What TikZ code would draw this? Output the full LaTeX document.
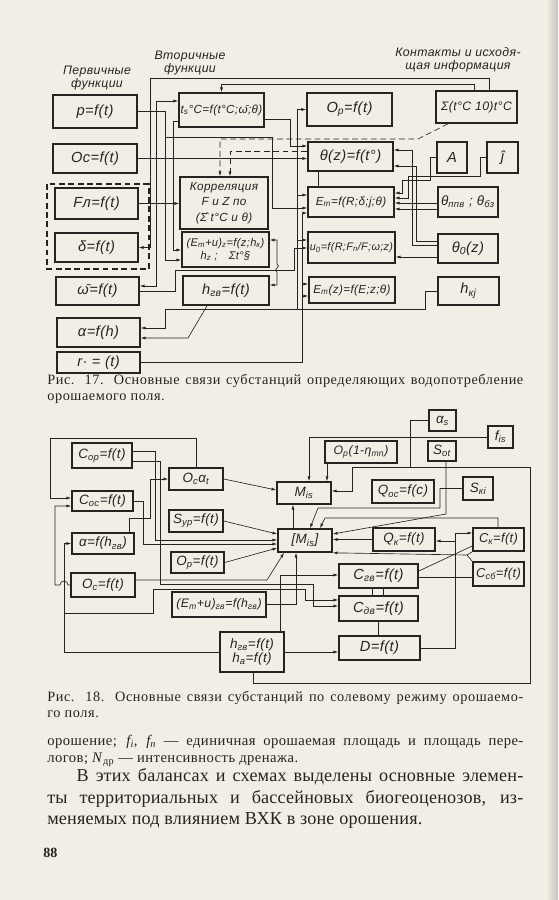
\documentclass[tikz,border=0pt]{standalone}
\usepackage{fontspec}
\setmainfont{Liberation Serif}
\newfontfamily\skfont[LetterSpace=3]{Liberation Sans}
\usetikzlibrary{arrows.meta}
\definecolor{ink}{RGB}{38,36,34}
\definecolor{paper}{RGB}{241,238,229}
\newcommand\dsub[1]{\textsubscript{#1}}

\begin{document}
\begin{tikzpicture}[x=0.03cm, y=-0.03cm, ink, line width=0.55pt,
    bx/.style 2 args={draw, line width=1.4pt, minimum width=#1*0.03cm, minimum height=#2*0.03cm,
      inner sep=0pt, align=center, font=\skfont\itshape\fontsize{12.5}{13}\selectfont},
    bs/.style 2 args={bx={#1}{#2}, font=\skfont\itshape\fontsize{10}{11}\selectfont},
    bm/.style 2 args={bx={#1}{#2}, font=\skfont\itshape\fontsize{11.5}{12}\selectfont},
    hd/.style={inner sep=0pt, align=center, font=\skfont\itshape\fontsize{10.5}{11}\selectfont},
    ar/.style={-{Latex[length=4pt,width=2.6pt]}},
    ar2/.style={{Latex[length=4pt,width=2.6pt]}-{Latex[length=4pt,width=2.6pt]}},
    dsh/.style={dash pattern=on 5pt off 3pt},
    captxt/.style={anchor=north west, inner sep=0pt, text width=14.28cm, align=justify,
      font=\addfontfeatures{LetterSpace=4}\fontsize{12.2}{13.5}\selectfont}]

    % page
    \fill[paper] (0,0) rectangle (558,900);
    \shade[left color=paper, right color=paper!82!black] (546,0) rectangle (558,900);

    % ---- Fig. 17 ----
    \node[hd] (h1) at (97,78) {Первичные\\функции};
    \node[hd] (h2) at (190,63) {Вторичные\\функции};
    \node[hd] (h3) at (458,60) {Контакты и исходя-\\щая информация};

    \node[bx={84}{33}] (p) at (95,111.5) {p=f(t)};
    \node[bx={84}{29}] (oc) at (95,158.5) {Oc=f(t)};
    \draw[dsh, line width=0.9pt] (47,184) rectangle (149,269);
    \node[bx={83}{31}] (fl) at (96.5,203.5) {Fл=f(t)};
    \node[bx={83}{29}] (dl) at (96.5,247.5) {δ=f(t)};
    \node[bx={83}{28}] (om) at (97.5,291) {ω̄=f(t)};
    \node[bx={83}{29}] (al) at (98.5,332.5) {α=f(h)};
    \node[bx={83}{21}] (r) at (98.5,362.5) {r· = (t)};

    \node[bs={85}{34}] (ts) at (221.5,110) {t\dsub{s}°C=f(t°C;ω̄;θ)};
    \node[bs={88}{52}, font=\skfont\itshape\fontsize{10}{13.5}\selectfont] (kor) at (224,203) {Корреляция\\F и Z по\\(Σ̂ t°C и θ)};
    \node[bs={87}{35}, font=\skfont\itshape\fontsize{9.5}{11}\selectfont] (emu) at (225.5,249.5) {(E\dsub{m}+u)\dsub{z}=f(z;h\dsub{к})\\h\dsub{z} ;\quad Σt°§};
    \node[bx={86}{29}] (hgv) at (226,290.5) {h\dsub{гв}=f(t)};

    \node[bx={85}{33}] (op) at (349.5,109.5) {O\dsub{p}=f(t)};
    \node[bx={85}{29}] (th) at (350.5,156.5) {θ(z)=f(t°)};
    \node[bs={86}{30}] (em) at (351,202) {E\dsub{m}=f(R;δ;j;θ)};
    \node[bs={87}{31}, font=\skfont\itshape\fontsize{9.3}{10}\selectfont] (u0) at (351.5,247.5) {u\dsub{0}=f(R;F\dsub{n}/F;ω;z)};
    \node[bs={86}{26}] (emz) at (352,290) {E\dsub{m}(z)=f(E;z;θ)};

    \node[bs={81}{32}, font=\skfont\itshape\fontsize{10.5}{11}\selectfont] (sig) at (476.5,107) {Σ(t°C 10)t°C};
    \node[bx={30}{31}] (A) at (452,157.5) {A};
    \node[bx={31}{31}] (jj) at (502.5,157.5) {ĵ};
    \node[bm={60}{30}] (tpp) at (468,202) {θ\dsub{ппв} ; θ\dsub{бз}};
    \node[bx={60}{29}] (t0) at (468,248.5) {θ\dsub{0}(z)};
    \node[bx={61}{28}] (hk) at (468.5,291) {h\dsub{кj}};

    \draw[ar] (sig.north -| 474,0) |- (ts.north |- 0,84) -- (ts.north);
    \draw[ar] (sig.north -| 489,0) |- (150,78) |- (dl.east);
    \draw[ar] (p.east) -| (165,137) -| (272,208) -- (em.west |- 0,208);
    \draw[ar] (oc.east) -- (th.west |- oc.east);
    \draw[ar] (fl.east) -- (kor.west |- fl.east);
    \draw[ar2] (ts.west |- 0,101) -| (156,286) -- (om.east |- 0,286);
    \draw[ar] (ts.west |- 0,121) -| (173,250) -- (emu.west |- 0,250);
    \draw[ar] (165,137) |- (emu.west |- 0,260);
    \draw[ar] (om.east) -| (175,270) -| (294,248) -- (u0.west |- 0,248);
    \draw[ar] (r.east) -| (302,213) -- (em.west |- 0,213);
    \draw[ar] (302,284) -- (emz.west |- 0,284);
    \draw[ar] (302,296) -- (emz.west |- 0,296);
    \draw[ar] (hk.west) -| (425,309) -| (165,328) -- (al.east |- 0,328);
    \draw[ar] (hgv.south -| 207,0) -- (188,338) -- (al.east |- 0,338);
    \draw[ar2] (emu.east |- 0,240) -- (277,240) -- (277,264) .. controls (282,266) and (272,270) .. (277,272) -- (277,285) -- (hgv.east |- 0,285);
    \draw[ar] (A.west) -| (430,180) -| (402,193) -- (em.east |- 0,193);
    \draw[ar] (jj.west) -| (480,176) -| (408,198) -- (em.east |- 0,198);
    \draw[ar] (tpp.west |- 0,203) -- (em.east |- 0,203);
    \draw[ar] (tpp.west |- 0,209) -- (em.east |- 0,209);
    \draw[ar] (t0.west |- 0,257) -- (u0.east |- 0,257);
    \draw[ar] (t0.west |- 0,241) -| (416,166) -- (th.east |- 0,166);
    \draw[ar] (t0.west |- 0,245) -| (412,150) -- (th.east |- 0,150);
    \draw[dsh, ar] (sig.south -| 448,0) -- (418,139) -| (kor.north -| 220,0);
    \draw[dsh, ar] (th.west |- 0,151) -| (kor.north -| 230,0);
    \draw[ar] (297,309) |- (op.west);
    \draw[ar] (297,240) -- (u0.west |- 0,240);
    \draw[ar] (297,195) -- (em.west |- 0,195);
    \draw[ar] (ts.east |- 0,119) -| (290,146) -- (th.west |- 0,146);
    \draw (th.south -| 318,0) -- (em.north -| 318,0);

    \node[captxt] (cap17) at (47,374) {Рис. 17. Основные связи субстанций определяющих водопотребление\linebreak орошаемого поля.};

    % ---- Fig. 18 ----
    \node[bm={60}{25}] (cop) at (102,455.5) {C\dsub{ор}=f(t)};
    \node[bm={54}{22}] (oca) at (196,479) {O\dsub{c}α\dsub{t}};
    \node[bm={61}{20}] (coc) at (102.5,501) {C\dsub{ос}=f(t)};
    \node[bm={54}{22}] (syp) at (196,521) {S\dsub{ур}=f(t)};
    \node[bm={62}{21}] (alh) at (103,543.5) {α=f(h\dsub{гв})};
    \node[bm={53}{21}] (opf) at (197.5,562.5) {O\dsub{p}=f(t)};
    \node[bm={64}{24}] (ocf) at (103,585) {O\dsub{c}=f(t)};
    \node[bs={94}{25}, font=\skfont\itshape\fontsize{10.5}{11}\selectfont] (emh) at (219,604.5) {(E\dsub{m}+u)\dsub{гв}=f(h\dsub{гв})};
    \node[bm={64}{40}] (hh) at (252,652) {h\dsub{гв}=f(t)\\h\dsub{a}=f(t)};
    \node[bm={54}{22}] (mis) at (304,493) {M\dsub{is}};
    \node[bm={54}{23}] (mbr) at (305,540.5) {[M\dsub{is}]};
    \node[bs={72}{22}, font=\skfont\itshape\fontsize{10.5}{11}\selectfont] (opn) at (361,452) {O\dsub{p}(1-η\dsub{mn})};
    \node[bm={27}{21}] (als) at (442.5,420.5) {α\dsub{s}};
    \node[bm={25}{22}] (fis) at (500.5,437) {f\dsub{is}};
    \node[bm={28}{20}] (sot) at (442,451) {S\dsub{ot}};
    \node[bm={62}{23}] (qoc) at (403,491.5) {Q\dsub{oc}=f(c)};
    \node[bm={30}{23}] (ski) at (478,488.5) {S\dsub{кi}};
    \node[bm={62}{23}] (qk) at (404,539.5) {Q\dsub{к}=f(t)};
    \node[bs={51}{23}, font=\skfont\itshape\fontsize{11}{12}\selectfont] (ck) at (498.5,539.5) {C\dsub{к}=f(t)};
    \node[bs={51}{24}, font=\skfont\itshape\fontsize{11}{12}\selectfont] (csb) at (498.5,574) {C\dsub{сб}=f(t)};
    \node[bx={79}{24}] (cgv) at (378.5,576) {C\dsub{гв}=f(t)};
    \node[bx={79}{25}] (cdv) at (378.5,608.5) {C\dsub{дв}=f(t)};
    \node[bx={81}{24}] (D) at (379.5,648) {D=f(t)};

    \draw[ar] (oca.north) |- (50,438) |- (coc.west |- 0,498);
    \draw[ar] (ocf.west) -- (68,585) arc[start angle=0, end angle=-180, radius=4] -- (55,585) |- (coc.west |- 0,506);
    \draw[ar] (hh.west) -| (alh.west -| 64,0) -- (alh.west);
    \draw[ar] (64,613) -| (153,589) -| (305,600) -- (cdv.west |- 0,600);
    \draw[ar] (cop.east |- 0,461) -| (160,584) -| (313,606) -- (cdv.west |- 0,606);
    \draw[ar] (cop.east |- 0,451) -| (155,540) -- (mbr.west |- 0,540);
    \draw[ar] (coc.east) -| (143,544) -- (mbr.west |- 0,544);
    \draw[ar] (alh.north -| 129,0) |- (150,518) |- (oca.west);
    \draw[ar] (oca.east) -- (mis.west |- 0,490);
    \draw[ar] (syp.east) -- (mbr.west |- 0,534);
    \draw[ar] (opf.east) -- (mbr.west |- 0,548);
    \draw[ar] (ocf.east |- 0,580) -- (267,580) -- (mbr.south -| 284,0);
    \draw[ar] (mbr.north -| 293,0) -- (mis.south -| 293,0);
    \draw[ar] (emh.east) -| (mbr.south -| 296,0);
    \draw[ar] (fis.west) -| (mis.north -| 309,0);
    \draw[ar] (opn.south -| 327,0) -- (mis.north -| 327,0);
    \draw[ar] (als.west) -| (410,467) -| (352,491) -- (mis.east |- 0,491);
    \draw (hh.south -| 253,0) |- (530,683) |- (410,467);
    \draw[ar] (sot.south -| 446,0) -- (446,514) -- (mbr.east |- 0,534);
    \draw[ar] (ski.west) -| (440,508) -- (318,508) -- (mbr.north -| 310,0);
    \draw[ar] (ck.north -| 498,0) |- (325,518) -- (mbr.north -| 320,0);
    \draw[ar] (qk.west) -- (mbr.east |- qk.west);
    \draw[ar] (D.east) -| (455,533) -- (ck.west |- 0,533);
    \draw[ar] (455,541) -- (qk.east |- 0,541);
    \draw (cgv.east |- 0,571) -- (ck.west |- 0,546);
    \draw (cgv.east |- 0,577) -- (csb.west |- 0,577);
    \draw[ar] (ck.south west) -- (467,555) -- (mbr.south east);
    \draw (csb.north west) -- (467,555);
    \draw (cgv.south -| 372,0) -- (cdv.north -| 372,0);
    \draw (cgv.south -| 383,0) -- (cdv.north -| 383,0);
    \draw (cdv.south) -- (cdv.south |- D.north);
    \draw[ar] (hh.east) -- (D.west |- hh.east);
    \draw[ar] (hh.north -| 280,0) |- (cgv.west |- 0,575);

    \node[captxt] (cap18) at (47,691) {Рис. 18. Основные связи субстанций по солевому режиму орошаемо-\linebreak го поля.};

    % ---- text ----
    \node[captxt, font=\addfontfeatures{LetterSpace=3}\fontsize{12.5}{14}\selectfont] (txt1) at (47,735)
      {орошение; \textit{f\dsub{i}}, \textit{f\dsub{n}} — единичная орошаемая площадь и площадь пере-\linebreak логов; \textit{N}\dsub{др} — интенсивность дренажа.};
    \node[captxt, font=\addfontfeatures{LetterSpace=1}\fontsize{15.5}{18.5}\selectfont] (txt2) at (47,768)
      {\hspace*{25pt}В этих балансах и схемах выделены основные элемен-\linebreak ты территориальных и бассейновых биогеоценозов, из-\linebreak меняемых под влиянием ВХК в зоне орошения.};
    \node[anchor=west, inner sep=0pt, font=\bfseries\fontsize{12}{14}\selectfont] (pg) at (43,853) {88};
\end{tikzpicture}
\end{document}
